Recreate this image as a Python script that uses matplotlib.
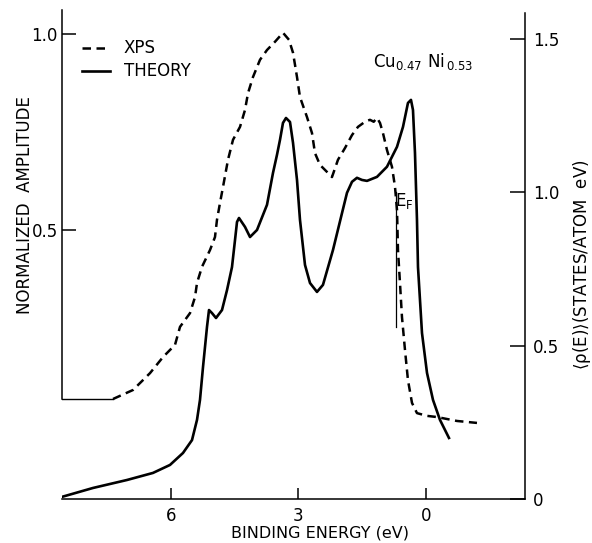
import matplotlib
matplotlib.use('Agg')
import matplotlib.pyplot as plt

# XPS spectrum (dashed), binding energy in eV vs normalized amplitude
xps_energy = [7.365, 6.894, 6.494, 6.188, 5.906, 5.788, 5.553, 5.435, 5.388, 5.271,
              5.082, 4.965, 4.918, 4.847, 4.776, 4.659, 4.541, 4.376, 4.259, 4.188,
              4.071, 3.906, 3.741, 3.553, 3.365, 3.224, 3.129, 3.035, 2.965, 2.800,
              2.682, 2.612, 2.494, 2.329, 2.212, 2.071, 1.906, 1.741, 1.600, 1.435,
              1.318, 1.230, 1.153, 1.082, 1.012, 0.918, 0.800, 0.729, 0.682, 0.659,
              0.612, 0.565, 0.494, 0.424, 0.329, 0.212, -0.024, -0.259, -0.729, -1.200]
xps_amplitude = [0.069, 0.092, 0.135, 0.176, 0.207, 0.253, 0.288, 0.329, 0.365, 0.406,
                 0.449, 0.482, 0.526, 0.569, 0.610, 0.679, 0.730, 0.763, 0.806, 0.849,
                 0.890, 0.934, 0.959, 0.980, 1.003, 0.985, 0.952, 0.890, 0.839, 0.788,
                 0.747, 0.696, 0.666, 0.648, 0.635, 0.679, 0.709, 0.742, 0.763, 0.776,
                 0.781, 0.776, 0.786, 0.773, 0.747, 0.704, 0.661, 0.610, 0.551, 0.449,
                 0.365, 0.278, 0.194, 0.117, 0.059, 0.033, 0.026, 0.023, 0.013, 0.008]

# flat XPS baseline at the low-energy side
baseline_energy = [8.565, 7.365]
baseline_level = 0.069

# Theory: averaged density of states (states/atom eV)
theory_energy = [8.565, 7.835, 7.035, 6.424, 6.024, 5.718, 5.506, 5.388, 5.318, 5.247,
                 5.153, 5.106, 5.035, 4.941, 4.800, 4.682, 4.565, 4.494, 4.447, 4.400,
                 4.259, 4.141, 3.976, 3.741, 3.600, 3.506, 3.435, 3.365, 3.294, 3.200,
                 3.129, 3.035, 2.965, 2.847, 2.729, 2.565, 2.424, 2.188, 1.976, 1.859,
                 1.741, 1.624, 1.506, 1.388, 1.153, 0.918, 0.682, 0.541, 0.424, 0.353,
                 0.306, 0.259, 0.212, 0.188, 0.094, -0.024, -0.165, -0.329, -0.541]
theory_dos = [0.007, 0.036, 0.062, 0.085, 0.111, 0.150, 0.192, 0.258, 0.323, 0.430,
              0.561, 0.616, 0.606, 0.590, 0.616, 0.681, 0.756, 0.844, 0.903, 0.916,
              0.887, 0.854, 0.877, 0.959, 1.063, 1.122, 1.171, 1.226, 1.242, 1.229,
              1.161, 1.040, 0.910, 0.763, 0.704, 0.675, 0.698, 0.812, 0.932, 0.998,
              1.034, 1.047, 1.040, 1.037, 1.050, 1.083, 1.148, 1.213, 1.291, 1.301,
              1.268, 1.128, 0.910, 0.756, 0.541, 0.411, 0.323, 0.258, 0.199]

# Fermi level marker
fermi_energy = 0.70
fermi_range = [0.56, 1.0]

x_ticks = [6, 3, 0]
left_ticks = [0.5, 1.0]
right_ticks = [0, 0.5, 1.0, 1.5]

plt.rcParams['font.family'] = 'DejaVu Sans'
plt.rcParams['mathtext.default'] = 'regular'
plt.rcParams['font.size'] = 12

fig = plt.figure(figsize=(5.92, 5.43), dpi=100)
ax = fig.add_axes([62 / 592, 44 / 543, 463 / 592, 489 / 543])
ax2 = ax.twinx()

# XPS on the left axis
xps_line, = ax.plot(xps_energy, xps_amplitude, color='black', lw=1.8,
                    linestyle=(0, (3.4, 2.2)), dash_joinstyle='round',
                    dash_capstyle='butt', label='XPS')
ax.plot(baseline_energy, [baseline_level, baseline_level], color='black', lw=1.0)

# Theory on the right axis
theory_line, = ax2.plot(theory_energy, theory_dos, color='black', lw=1.9,
                        solid_joinstyle='round', label='THEORY')
ax2.plot([fermi_energy, fermi_energy], fermi_range, color='black', lw=0.9)

# Axes limits
ax.set_xlim(8.565, -2.33)
ax.set_ylim(-0.186, 1.061)
ax2.set_ylim(0, 1.594)

# Spines
ax.spines['top'].set_visible(False)
ax.spines['right'].set_visible(False)
ax2.spines['top'].set_visible(False)
ax2.spines['left'].set_visible(False)
ax2.spines['bottom'].set_visible(False)
ax.spines['left'].set_bounds(baseline_level, 1.061)
ax2.spines['right'].set_bounds(0, 1.585)
for s in ['left', 'bottom']:
    ax.spines[s].set_linewidth(1.1)
ax2.spines['right'].set_linewidth(1.1)

# Ticks
ax.set_xticks(x_ticks)
ax.set_xticklabels([str(t) for t in x_ticks])
ax.set_yticks(left_ticks)
ax.set_yticklabels(['0.5', '1.0'])
ax2.set_yticks(right_ticks)
ax2.set_yticklabels(['0', '0.5', '1.0', '1.5'])
ax.tick_params(axis='x', direction='in', length=8, width=1.1, pad=6, labelsize=12)
ax.tick_params(axis='y', direction='in', length=10, width=1.1, pad=3, labelsize=12)
ax2.tick_params(axis='y', direction='in', length=11, width=1.1, pad=6, labelsize=12)

# Axis labels
ax.set_xlabel('BINDING ENERGY (eV)', fontsize=11.5, va='baseline')
ax.xaxis.set_label_coords((320 - 62) / 463, (499 - 538) / 489)
ax.set_ylabel('NORMALIZED  AMPLITUDE', fontsize=12, va='center', ha='center')
ax.yaxis.set_label_coords((25 - 62) / 463, (499 - 205) / 489)
ax2.set_ylabel(r'$\langle\rho(E)\rangle$(STATES/ATOM  eV)', fontsize=12,
               va='center', ha='center', rotation=90)
ax2.yaxis.set_label_coords((582 - 62) / 463, (499 - 265) / 489)

# Annotations
ax.text((373 - 62) / 463, (499 - 67) / 489, r'Cu$_{0.47}$ Ni$_{\,0.53}$',
        transform=ax.transAxes, ha='left', va='baseline', fontsize=12)
ax2.text(0.73, 0.955, r'$E_F$', ha='left', va='baseline', fontsize=12)

# Legend
ax2.legend(handles=[xps_line, theory_line], loc='upper left', frameon=False,
           bbox_to_anchor=(0.043, 0.94), borderaxespad=0, borderpad=0,
           handlelength=1.7, handletextpad=0.8, labelspacing=0.3, fontsize=12)

fig.savefig('out.png', dpi=100)
